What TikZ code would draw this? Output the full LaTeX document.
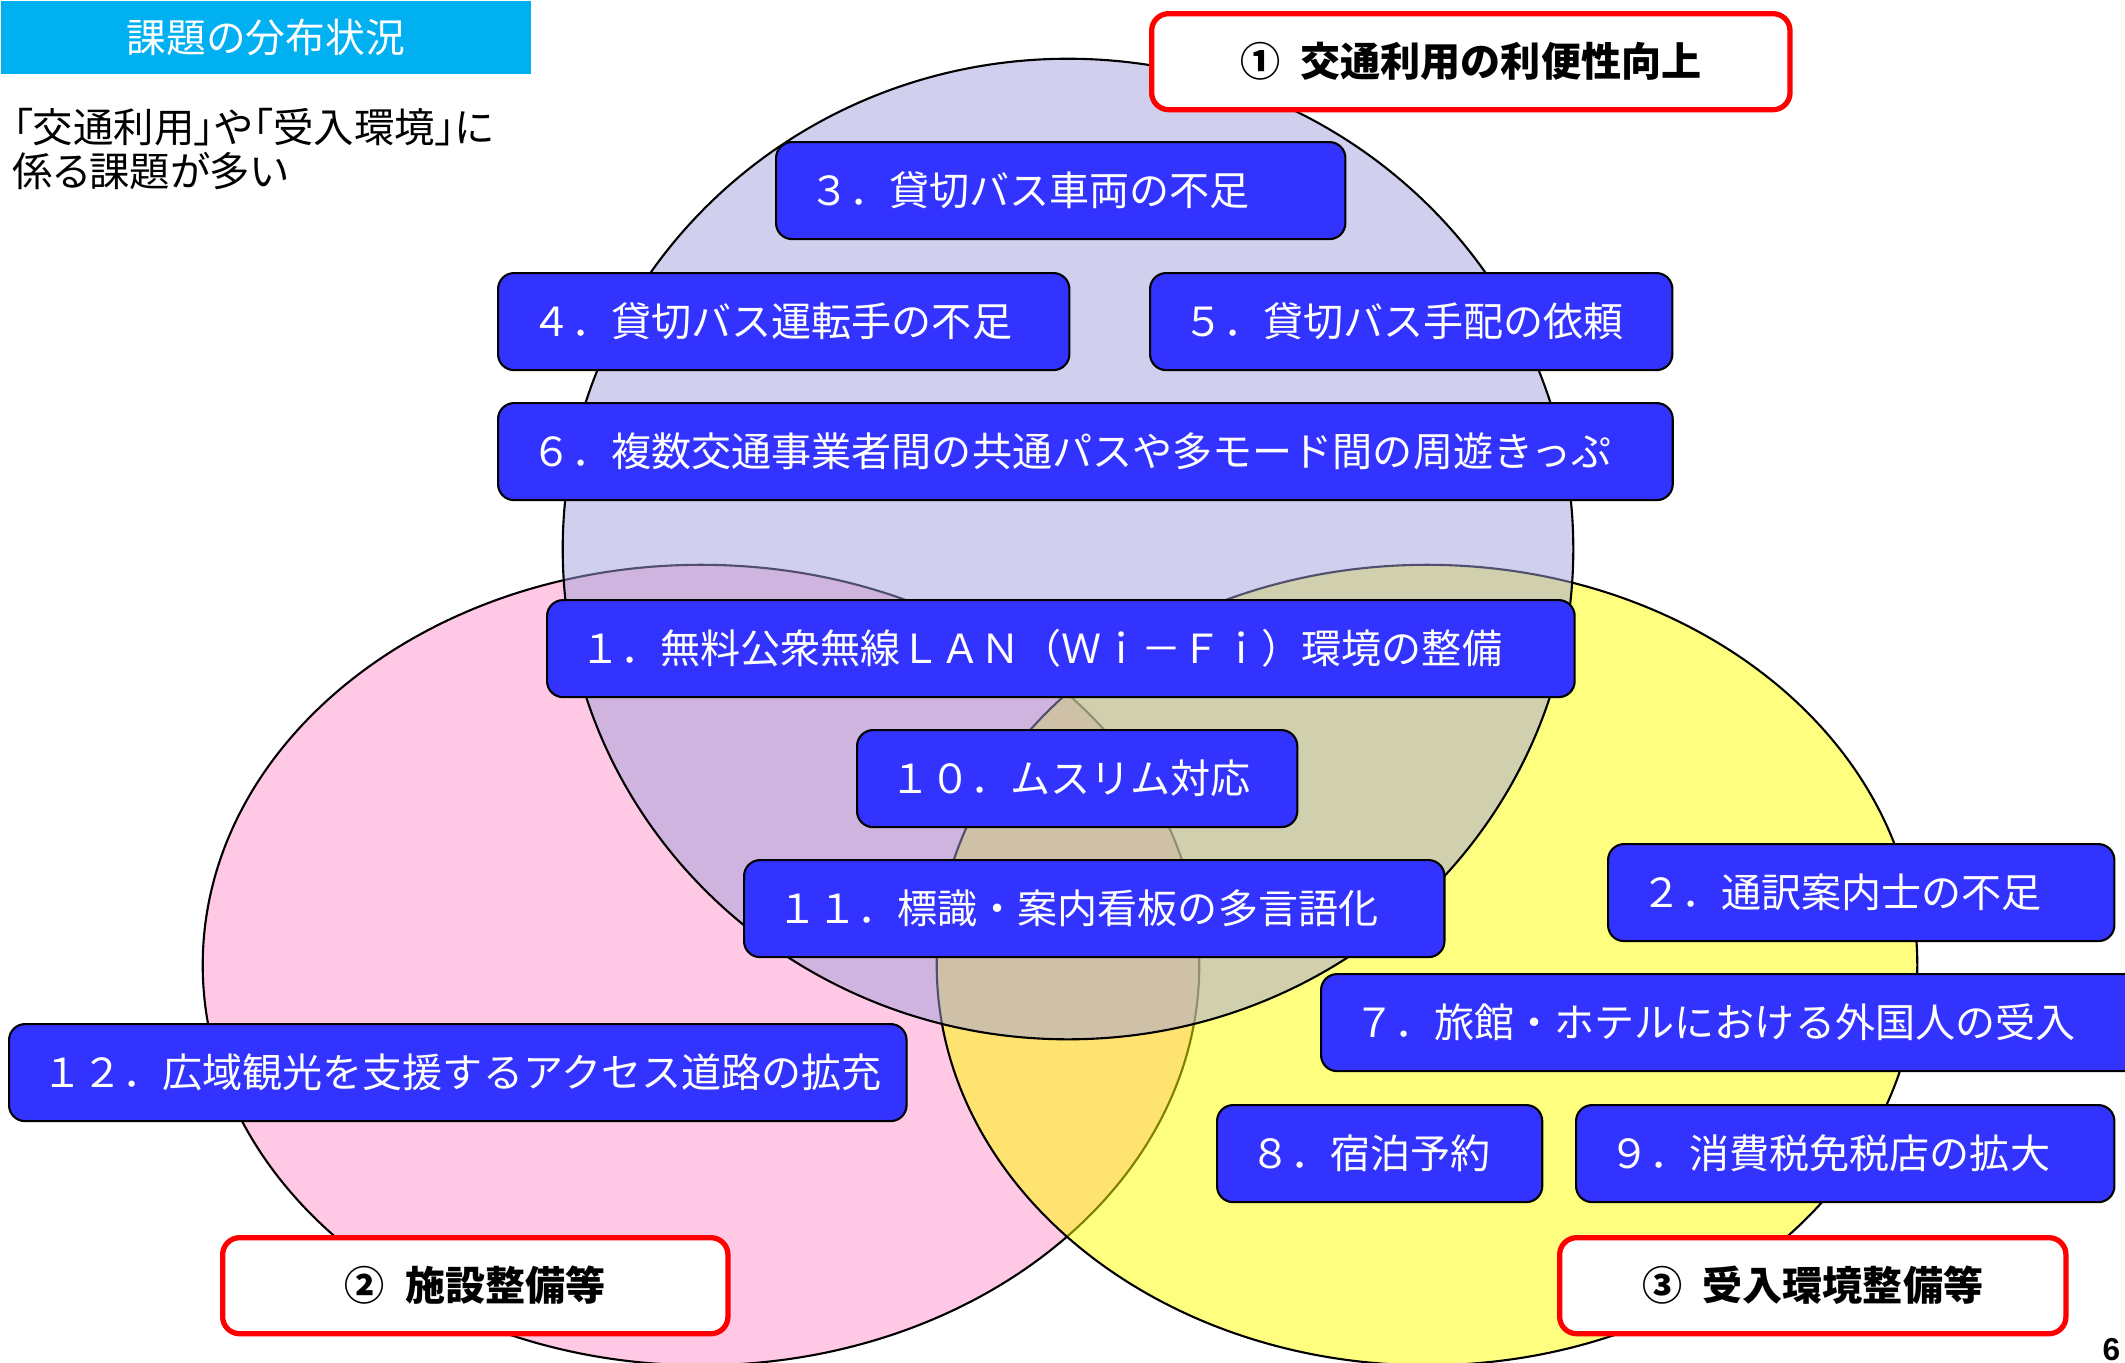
\documentclass[tikz,border=0pt]{standalone}
\usepackage{fontspec}
\setmainfont{Noto Sans CJK JP}
\newfontfamily\jpp[RawFeature={+palt}]{Noto Sans CJK JP}
\newfontfamily\pgfont{Liberation Sans}
\definecolor{boxblue}{RGB}{51,51,255}
\definecolor{titlecyan}{RGB}{0,176,240}
\definecolor{pinkfill}{RGB}{255,200,228}
\definecolor{yellowbase}{RGB}{255,255,0}
\definecolor{lavbase}{RGB}{161,161,221}
\definecolor{redline}{RGB}{255,0,0}
\begin{document}
\begin{tikzpicture}[x=0.01cm, y=-0.01cm,
  issue/.style={draw=black, line width=0.6pt, fill=boxblue, rounded corners=0.16cm,
    text=white, anchor=north west, minimum height=0.97cm, inner xsep=0.33cm, inner ysep=0pt,
    align=left, font=\fontsize{11.4pt}{13pt}\selectfont, text height=0.35cm, text depth=0.05cm},
  header/.style={draw=redline, line width=1.5pt, fill=white, rounded corners=0.17cm,
    anchor=north west, minimum height=0.96cm, inner sep=0pt,
    font=\bfseries\fontsize{11.4pt}{13pt}\selectfont, text height=0.35cm, text depth=0.05cm},
  notetext/.style={anchor=base west, inner sep=0pt, font=\jpp\fontsize{11.5pt}{13pt}\selectfont},
  venn/.style={draw=black, line width=0.6pt}]
\path[use as bounding box] (0,0) rectangle (2125,1362);
% Venn ellipses
\filldraw[venn, fill=pinkfill] (701,965) ellipse [x radius=4.98cm, y radius=4cm];
\filldraw[venn, fill=yellowbase, fill opacity=0.5] (1427,965) ellipse [x radius=4.90cm, y radius=4cm];
\filldraw[venn, fill=lavbase, fill opacity=0.5] (1068,549) ellipse [x radius=5.05cm, y radius=4.90cm];
% title and note
\node (title) [fill=titlecyan, text=white, anchor=north west, minimum width=5.30cm,
  minimum height=0.73cm, inner sep=0pt, font=\fontsize{11.3pt}{13pt}\selectfont] at (0,0) {課題の分布状況};
\node (note1) [notetext] at (12,142) {「交通利用」や「受入環境」に};
\node (note2) [notetext] at (12,186) {係る課題が多い};
% headers
\node (h1) [header, minimum width=6.38cm] at (1149,11) {①\hspace{0.5em}交通利用の利便性向上};
\node (h2) [header, minimum width=5.05cm] at (220,1235) {②\hspace{0.5em}施設整備等};
\node (h3) [header, minimum width=5.06cm] at (1557,1235) {③\hspace{0.5em}受入環境整備等};
% issue boxes
\node (b3) [issue, text width=5.03cm] at (775,141) {３．貸切バス車両の不足};
\node (b4) [issue, text width=5.05cm] at (497,272) {４．貸切バス運転手の不足};
\node (b5) [issue, text width=4.56cm] at (1149,272) {５．貸切バス手配の依頼};
\node (b6) [issue, text width=11.08cm] at (497,402) {６．複数交通事業者間の共通パスや多モード間の周遊きっぷ};
\node (b1) [issue, text width=9.61cm] at (546,599) {１．無料公衆無線ＬＡＮ（Ｗｉ－Ｆｉ）環境の整備};
\node (b10) [issue, text width=3.74cm] at (856,729) {１０．ムスリム対応};
\node (b11) [issue, text width=6.34cm] at (743,859) {１１．標識・案内看板の多言語化};
\node (b2) [issue, text width=4.40cm] at (1607,843) {２．通訳案内士の不足};
\node (b7) [issue, text width=7.84cm] at (1320,973) {７．旅館・ホテルにおける外国人の受入};
\node (b12) [issue, text width=8.31cm] at (8,1023) {１２．広域観光を支援するアクセス道路の拡充};
\node (b8) [issue, text width=2.59cm] at (1216,1104) {８．宿泊予約};
\node (b9) [issue, text width=4.72cm] at (1575,1104) {９．消費税免税店の拡大};
% page number
\node (pg) [anchor=base west, inner sep=0pt, font=\pgfont\bfseries\fontsize{9pt}{10pt}\selectfont] at (2102,1360) {6};
\end{tikzpicture}
\end{document}
